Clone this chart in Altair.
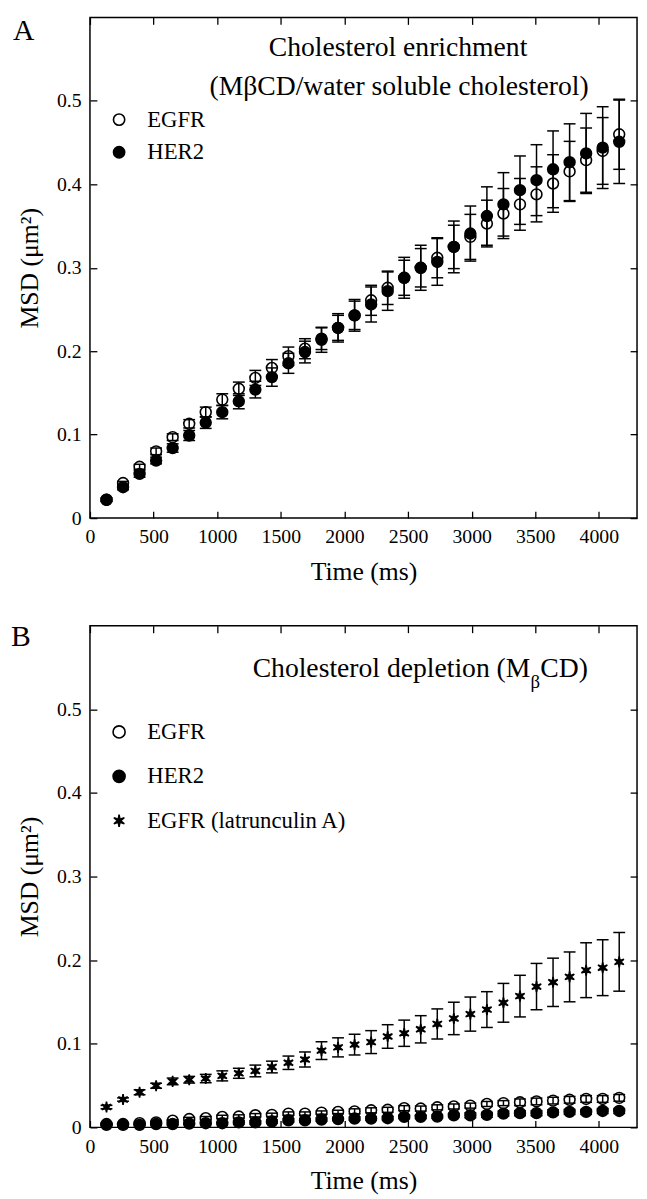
import altair as alt
import pandas as pd

SERIF = "Liberation Serif"

# ---------------- data ----------------
time_ms = [130, 260, 390, 520, 650, 780, 910, 1040, 1170, 1300, 1430, 1560,
           1690, 1820, 1950, 2080, 2210, 2340, 2470, 2600, 2730, 2860, 2990,
           3120, 3250, 3380, 3510, 3640, 3770, 3900, 4030, 4160]

# Panel A: cholesterol enrichment
a_egfr = [0.022, 0.042, 0.0615, 0.080, 0.097, 0.113, 0.127, 0.142, 0.155, 0.168,
          0.180, 0.194, 0.203, 0.215, 0.228, 0.243, 0.261, 0.276, 0.288, 0.300,
          0.312, 0.325, 0.337, 0.353, 0.365, 0.376, 0.388, 0.401, 0.4155, 0.429,
          0.440, 0.460]
a_egfr_err = [0.002, 0.002, 0.003, 0.004, 0.004, 0.005, 0.006, 0.007, 0.008, 0.009,
              0.010, 0.011, 0.012, 0.013, 0.015, 0.017, 0.018, 0.020, 0.021, 0.023,
              0.024, 0.026, 0.027, 0.028, 0.030, 0.031, 0.033, 0.0345, 0.036, 0.0385,
              0.040, 0.042]
a_her2 = [0.022, 0.037, 0.053, 0.069, 0.084, 0.099, 0.1145, 0.127, 0.140, 0.154,
          0.169, 0.1855, 0.199, 0.2137, 0.228, 0.243, 0.256, 0.272, 0.288, 0.300,
          0.307, 0.325, 0.341, 0.362, 0.376, 0.393, 0.405, 0.418, 0.4265, 0.437,
          0.444, 0.451]
a_her2_err = [0.002, 0.003, 0.004, 0.004, 0.005, 0.006, 0.007, 0.008, 0.009, 0.010,
              0.011, 0.012, 0.013, 0.015, 0.017, 0.019, 0.021, 0.023, 0.0245, 0.027,
              0.028, 0.031, 0.033, 0.035, 0.038, 0.041, 0.0425, 0.046, 0.046, 0.048,
              0.049, 0.050]

# Panel B: cholesterol depletion
b_egfr = [0.004, 0.004, 0.005, 0.006, 0.008, 0.010, 0.011, 0.0125, 0.013, 0.0145,
          0.015, 0.0165, 0.0165, 0.0177, 0.0185, 0.0192, 0.0204, 0.021, 0.023, 0.0225,
          0.024, 0.025, 0.026, 0.028, 0.029, 0.030, 0.031, 0.032, 0.033, 0.034,
          0.034, 0.0353]
b_egfr_err = [0.001, 0.001, 0.001, 0.001, 0.001, 0.002, 0.002, 0.002, 0.002, 0.002,
              0.002, 0.002, 0.002, 0.002, 0.002, 0.003, 0.003, 0.003, 0.003, 0.003,
              0.003, 0.003, 0.003, 0.003, 0.003, 0.004, 0.004, 0.004, 0.004, 0.004,
              0.004, 0.004]
b_her2 = [0.003, 0.003, 0.003, 0.004, 0.004, 0.0045, 0.005, 0.005, 0.006, 0.006,
          0.007, 0.0085, 0.0085, 0.0094, 0.010, 0.0106, 0.0106, 0.011, 0.0125, 0.0125,
          0.013, 0.0145, 0.0145, 0.015, 0.0165, 0.017, 0.017, 0.018, 0.0185, 0.0185,
          0.0196, 0.0196]
b_her2_err = [0.001, 0.001, 0.001, 0.001, 0.001, 0.001, 0.001, 0.001, 0.002, 0.002,
              0.002, 0.002, 0.002, 0.002, 0.002, 0.002, 0.002, 0.002, 0.002, 0.002,
              0.002, 0.002, 0.003, 0.003, 0.003, 0.003, 0.003, 0.003, 0.003, 0.003,
              0.003, 0.003]
b_lat = [0.0243, 0.0333, 0.042, 0.0498, 0.055, 0.057, 0.0584, 0.0616, 0.0647, 0.0675,
         0.0722, 0.0773, 0.0812, 0.0918, 0.0957, 0.099, 0.102, 0.1087, 0.1126, 0.1173,
         0.1237, 0.1303, 0.1355, 0.1409, 0.149, 0.157, 0.1684, 0.1735, 0.180, 0.188,
         0.191, 0.198]
b_lat_err = [0.002, 0.002, 0.003, 0.003, 0.004, 0.004, 0.005, 0.006, 0.006, 0.007,
             0.007, 0.008, 0.009, 0.0106, 0.0114, 0.0124, 0.0137, 0.0141, 0.0157, 0.0163,
             0.018, 0.0194, 0.0204, 0.0214, 0.0232, 0.0249, 0.0277, 0.0289, 0.0298, 0.0328,
             0.0334, 0.0351]

series_a = ["EGFR", "HER2"]
series_b = ["EGFR", "HER2", "EGFR (latrunculin A)"]

x_ticks = [0, 500, 1000, 1500, 2000, 2500, 3000, 3500, 4000]
y_ticks = [0, 0.1, 0.2, 0.3, 0.4, 0.5]

title_a = ["Cholesterol enrichment", "(M\u03b2CD/water soluble cholesterol)"]
title_b = ["Cholesterol depletion (M", "\u03b2", "CD)"]

STAR = ("M0,-1L0.14,-0.24L0.866,-0.5L0.28,0L0.866,0.5L0.14,0.24L0,1"
        "L-0.14,0.24L-0.866,0.5L-0.28,0L-0.866,-0.5L-0.14,-0.24Z")


def long_table(names, values, errors):
    rows = []
    for name, vals, errs in zip(names, values, errors):
        for t, v, e in zip(time_ms, vals, errs):
            rows.append({"series": name, "t": t, "v": v, "lo": v - e, "hi": v + e})
    return pd.DataFrame(rows)


df_a = long_table(series_a, [a_egfr, a_her2], [a_egfr_err, a_her2_err])
df_b = long_table(series_b, [b_egfr, b_her2, b_lat], [b_egfr_err, b_her2_err, b_lat_err])

W = 554
XS = alt.Scale(domain=[0, 4300], nice=False, zero=False)
YS = alt.Scale(domain=[0, 0.6], nice=False)


def text_layer(label, x, y, size, align="center", baseline="middle"):
    return alt.Chart(pd.DataFrame({"label": [label]})).mark_text(
        font=SERIF, fontSize=size, align=align, baseline=baseline, color="black"
    ).encode(text="label:N", x=alt.value(x), y=alt.value(y))


def panel(df, names, fills, shapes, legend_y, row_pad, symbol_size):
    base = alt.Chart(df)
    x_axis = alt.Axis(values=x_ticks, title="Time (ms)", offset=-7, tickSize=7,
                      labelPadding=9, titlePadding=12, labelFlush=False,
                      labelOverlap=False, format="d")
    y_axis = alt.Axis(values=y_ticks, title="MSD (\u03bcm\u00b2)", offset=-7, tickSize=7,
                      labelPadding=9, titlePadding=14, format=".1~f",
                      labelOverlap=False)
    top_axis = alt.Axis(values=x_ticks, orient="top", labels=False, title=None,
                        offset=-7, tickSize=7)
    right_axis = alt.Axis(values=y_ticks, orient="right", labels=False, title=None,
                          offset=-7, tickSize=7)

    bars = base.mark_rule(color="black", strokeWidth=1.5).encode(
        x=alt.X("t:Q", scale=XS, axis=x_axis),
        y=alt.Y("lo:Q", scale=YS, axis=y_axis),
        y2="hi:Q",
    )
    caps_lo = base.mark_rule(color="black", strokeWidth=1.5, xOffset=-6, x2Offset=6).encode(
        x=alt.X("t:Q", scale=XS, axis=None), x2="t:Q",
        y=alt.Y("lo:Q", scale=YS, axis=None),
    )
    caps_hi = base.mark_rule(color="black", strokeWidth=1.5, xOffset=-6, x2Offset=6).encode(
        x=alt.X("t:Q", scale=XS, axis=None), x2="t:Q",
        y=alt.Y("hi:Q", scale=YS, axis=None),
    )
    leg = alt.Legend(title=None, orient="none", legendX=18, legendY=legend_y,
                     labelFont=SERIF, labelFontSize=23, labelColor="black",
                     labelLimit=400, symbolSize=symbol_size, symbolStrokeWidth=1.6,
                     rowPadding=row_pad, labelOffset=17, padding=0)
    points = base.mark_point(size=120, strokeWidth=1.6, opacity=1).encode(
        x=alt.X("t:Q", scale=XS, axis=None),
        y=alt.Y("v:Q", scale=YS, axis=None),
        fill=alt.Fill("series:N", scale=alt.Scale(domain=names, range=fills), legend=leg),
        stroke=alt.Stroke("series:N",
                          scale=alt.Scale(domain=names, range=["black"] * len(names)),
                          legend=leg),
        shape=alt.Shape("series:N", scale=alt.Scale(domain=names, range=shapes), legend=leg),
    )
    mirror = base.mark_point(opacity=0).encode(
        x=alt.X("t:Q", scale=XS, axis=top_axis),
        y=alt.Y("v:Q", scale=YS, axis=right_axis),
    )
    return [bars, caps_lo, caps_hi, points, mirror]


layers_a = panel(df_a, series_a, ["transparent", "black"], ["circle", "circle"], 92, 9, 130)
layers_b = panel(df_b, series_b, ["transparent", "black", "black"],
                 ["circle", "circle", STAR], 96, 21, 150)

texts_a = [
    text_layer("A", -78, 23, 30, align="left", baseline="alphabetic"),
    text_layer(title_a[0], 312, 31, 28),
    text_layer(title_a[1], 313, 71, 28),
]
texts_b = [
    text_layer("B", -80, 21, 30, align="left", baseline="alphabetic"),
    text_layer(title_b[0], 446, 44, 28, align="right"),
    text_layer(title_b[1], 446, 57, 19, align="left"),
    text_layer(title_b[2], 456, 44, 28, align="left"),
]

chart_a = alt.layer(*layers_a, *texts_a).resolve_axis(
    x="independent", y="independent").properties(width=W, height=507)
chart_b = alt.layer(*layers_b, *texts_b).resolve_axis(
    x="independent", y="independent").properties(width=W, height=508)

chart = alt.vconcat(chart_a, chart_b, spacing=37).resolve_scale(
    fill="independent", stroke="independent", shape="independent"
).resolve_legend(
    fill="independent", stroke="independent", shape="independent"
).properties(
    padding={"left": 2, "top": 0, "right": 0, "bottom": 0},
    background="white",
).configure_view(
    stroke="black", strokeWidth=1.5
).configure_axis(
    labelFont=SERIF, titleFont=SERIF, labelColor="black", titleColor="black",
    tickColor="black", tickWidth=1.3, titleFontWeight="normal",
    labelFontSize=20, titleFontSize=26, grid=False, domain=False,
)

chart.save("out.html", embed_options={"renderer": "svg", "actions": False})
